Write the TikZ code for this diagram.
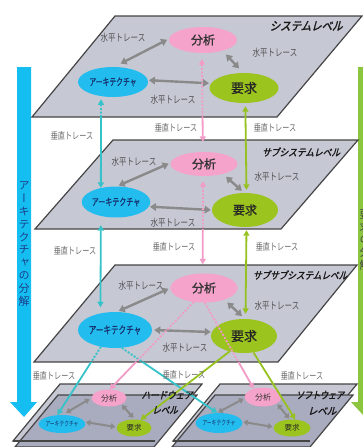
\documentclass[tikz,border=0pt]{standalone}
\usepackage{fontspec}
\usetikzlibrary{shapes.geometric,arrows.meta,calc}
\newfontfamily\jp{Noto Sans CJK JP}
\newfontfamily\jpb[FakeBold=1.2]{Noto Sans CJK JP}
\newfontfamily\jpi[FakeSlant=0.3,FakeBold=2]{Noto Sans CJK JP}
\newfontfamily\jpv[RawFeature={+vert}]{Noto Sans CJK JP}
\definecolor{planec}{HTML}{C6C8D4}
\definecolor{planed}{HTML}{A9ABBE}
\definecolor{edgec}{HTML}{454545}
\definecolor{pinkc}{HTML}{F5A3CB}
\definecolor{cyanc}{HTML}{22BDEE}
\definecolor{greenc}{HTML}{9CC41E}
\definecolor{pinkl}{HTML}{F29BC7}
\definecolor{cyanl}{HTML}{35C3C9}
\definecolor{greenl}{HTML}{96C21F}
\definecolor{arrg}{HTML}{8A8A8A}
\definecolor{labg}{HTML}{555555}
\definecolor{vlabg}{HTML}{6A6A6A}
\definecolor{barcyan}{HTML}{14BEF0}
\definecolor{bargreen}{HTML}{8CC63F}
\definecolor{navyt}{HTML}{1B3F8B}
\newcommand{\sx}[2]{\scalebox{#1}[1]{#2}}
\begin{document}
\begin{tikzpicture}[x=1pt,y=-1pt,
  plane/.style={fill=planec,draw=edgec,line width=1.2},
  planedark/.style={fill=planed,draw=edgec,line width=1.2},
  ell/.style={ellipse,inner sep=0,draw=none},
  ana/.style={ell,fill=pinkc,text=black!80},
  arch/.style={ell,fill=cyanc,text=navyt!80!black},
  req/.style={ell,fill=greenc,text=black!85},
  harrow/.style={draw=arrg,line width=2.4,{Triangle[length=6,width=7.5]}-{Triangle[length=6,width=7.5]}},
  harrows/.style={draw=arrg,line width=2,{Triangle[length=4.5,width=6]}-{Triangle[length=4.5,width=6]}},
  vt/.style={line width=1.8},
  both/.style={{Triangle[length=5.5,width=6]}-{Triangle[length=5.5,width=6]}},
  down/.style={-{Triangle[length=5.5,width=6]}},
  dots/.style={dash pattern=on 2pt off 1.6pt},
  hlab/.style={font=\jp\fontsize{10}{10}\selectfont,text=labg,inner sep=0},
  vlab/.style={font=\jp\fontsize{9.5}{9.5}\selectfont,text=vlabg,inner sep=0},
  lvl/.style={text=black!90,inner sep=0}
]
\useasboundingbox (0,0) rectangle (363,447);

% decomposition bars
\fill[barcyan] (17,67) -- (31,67) -- (31,402) -- (37,402) -- (24,417) -- (10,402) -- (17,402) -- cycle;
\fill[bargreen] (358,67) -- (372,67) -- (372,402) -- (379,402) -- (365,417) -- (351,402) -- (358,402) -- cycle;
\node[font=\jpv\fontsize{11}{12.8}\selectfont,align=center,text=navyt,inner sep=0] (bartxt) at (24,244) {ア\\ー\\キ\\テ\\ク\\チ\\ャ\\の\\分\\解};
\node[font=\jpv\fontsize{11}{12.8}\selectfont,align=center,text=black!75,inner sep=0] (bartxt2) at (365,240) {要\\求\\の\\分\\解};

% planes
\draw[plane] (115,16) -- (362,16) -- (277,117) -- (32,117) -- cycle;
\draw[plane] (113,140) -- (358,140) -- (281,229) -- (35,229) -- cycle;
\draw[plane] (115,265) -- (357,265) -- (278,362) -- (34,362) -- cycle;
\draw[plane] (60,384) -- (202,384) -- (155,441) -- (13,441) -- cycle;
\draw[planedark] (58,395) -- (197,395) -- (154,447) -- (15,447) -- cycle;
\draw[edgec,line width=1.2] (155,441) -- (13,441);
\draw[plane] (220,384) -- (357,384) -- (310,441) -- (173,441) -- cycle;
\draw[planedark] (215,395) -- (353,395) -- (310,447) -- (172,447) -- cycle;
\draw[edgec,line width=1.2] (310,441) -- (173,441);

% ellipses
\node[ana,minimum width=68,minimum height=26,font=\jpb\fontsize{12}{12}\selectfont] (ana1) at (203,40) {分析};
\node[arch,minimum width=70,minimum height=30,font=\jpb\fontsize{10}{10}\selectfont] (arch1) at (113,82) {\sx{0.68}{アーキテクチャ}};
\node[req,minimum width=69,minimum height=30,font=\jpb\fontsize{13}{13}\selectfont] (req1) at (244,88) {要求};

\node[ana,minimum width=67,minimum height=24,font=\jpb\fontsize{12}{12}\selectfont] (ana2) at (204,164) {分析};
\node[arch,minimum width=68,minimum height=31,font=\jpb\fontsize{10}{10}\selectfont] (arch2) at (116,202) {\sx{0.7}{アーキテクチャ}};
\node[req,minimum width=66,minimum height=34,font=\jpb\fontsize{12}{12}\selectfont] (req2) at (245,210) {要求};

\node[ana,minimum width=67,minimum height=29,font=\jpb\fontsize{12}{12}\selectfont] (ana3) at (204,288) {分析};
\node[arch,minimum width=66,minimum height=36,font=\jpb\fontsize{10.5}{10.5}\selectfont] (arch3) at (115,330) {\sx{0.72}{アーキテクチャ}};
\node[req,minimum width=66,minimum height=34,font=\jpb\fontsize{13}{13}\selectfont] (req3) at (244,336) {要求};

\node[ana,minimum width=35,minimum height=17,font=\jp\fontsize{8}{8}\selectfont] (anaL) at (109,398) {分析};
\node[arch,minimum width=40,minimum height=18,font=\jp\fontsize{7}{7}\selectfont] (archL) at (62,424) {\sx{0.68}{アーキテクチャ}};
\node[req,minimum width=35,minimum height=17,font=\jp\fontsize{7.5}{7.5}\selectfont] (reqL) at (134,428) {要求};

\node[ana,minimum width=37,minimum height=19,font=\jp\fontsize{8}{8}\selectfont] (anaR) at (263,397) {分析};
\node[arch,minimum width=42,minimum height=20,font=\jp\fontsize{7}{7}\selectfont] (archR) at (219,423) {\sx{0.68}{アーキテクチャ}};
\node[req,minimum width=37,minimum height=17,font=\jp\fontsize{7.5}{7.5}\selectfont] (reqR) at (292,428) {要求};

% horizontal traces
\draw[harrow,shorten <=7,shorten >=2] (arch1.85) -- (ana1.178);
\draw[harrow,shorten <=5,shorten >=6] (ana1.331) -- (req1.93);
\draw[harrow,shorten <=1,shorten >=2] (arch1.3) -- (req1.172);

\draw[harrow,shorten <=2,shorten >=2] (arch2.87) -- (ana2.178);
\draw[harrow,shorten <=4,shorten >=3] (ana2.332) -- (req2.93);
\draw[harrow,shorten <=1,shorten >=1] (arch2.352) -- (req2.180);

\draw[harrow,shorten <=2,shorten >=2] (arch3.84) -- (ana3.180);
\draw[harrow,shorten <=4,shorten >=4] (ana3.330) -- (req3.87);
\draw[harrow,shorten <=2,shorten >=1] (arch3.0) -- (req3.173);

\draw[harrows,shorten <=4,shorten >=2] (archL.86) -- (anaL.180);
\draw[harrows,shorten <=1,shorten >=2] (anaL.333) -- (reqL.85);
\draw[harrows,shorten <=1,shorten >=1] (archL.5) -- (reqL.177);

\draw[harrows,shorten <=1,shorten >=1] (archR.100) -- (anaR.184);
\draw[harrows,shorten <=1,shorten >=1] (anaR.335) -- (reqR.104);
\draw[harrows,shorten <=1,shorten >=1] (archR.3) -- (reqR.177);

% vertical traces level 1 -> 2
\begin{scope}
\clip (0,0) rectangle (363,117);
\draw[vt,cyanl,dots,both,shorten <=3] (arch1.230) -- (arch2.137);
\draw[vt,pinkl,dots,both,shorten <=6,shorten >=10] (ana1.265) -- (ana2.95);
\end{scope}
\begin{scope}
\clip (0,117) rectangle (363,447);
\draw[vt,cyanl,both,shorten <=3] (arch1.230) -- (arch2.137);
\draw[vt,pinkl,both,shorten <=6,shorten >=10] (ana1.265) -- (ana2.95);
\end{scope}
\draw[vt,greenl,both,shorten <=3,shorten >=3] (req1.275) -- (req2.85);

% vertical traces level 2 -> 3
\begin{scope}
\clip (0,0) rectangle (363,229);
\draw[vt,cyanl,dots,both,shorten <=9,shorten >=6] (arch2.223) -- (arch3.131);
\draw[vt,pinkl,dots,both,shorten <=5,shorten >=9] (ana2.265) -- (ana3.95);
\end{scope}
\begin{scope}
\clip (0,229) rectangle (363,447);
\draw[vt,cyanl,both,shorten <=9,shorten >=6] (arch2.223) -- (arch3.131);
\draw[vt,pinkl,both,shorten <=5,shorten >=9] (ana2.265) -- (ana3.95);
\end{scope}
\draw[vt,greenl,both,shorten <=3,shorten >=5] (req2.275) -- (req3.85);

% vertical traces level 3 -> hardware / software
\begin{scope}
\clip (0,0) rectangle (363,362);
\draw[vt,cyanl,dots,down] (arch3.230) -- (archL.117);
\draw[vt,cyanl,dots,down] (arch3.291) -- (archR.100);
\draw[vt,pinkl,dots,down] (ana3.234) -- (anaL.85);
\draw[vt,pinkl,dots,down] (ana3.273) -- (anaR.138);
\end{scope}
\begin{scope}
\clip (0,362) rectangle (363,447);
\draw[vt,cyanl,down] (arch3.230) -- (archL.117);
\draw[vt,cyanl,down] (arch3.291) -- (archR.100);
\draw[vt,pinkl,down] (ana3.234) -- (anaL.85);
\draw[vt,pinkl,down] (ana3.273) -- (anaR.138);
\end{scope}
\draw[vt,greenl,down] (req3.227) -- (reqL.51);
\draw[vt,greenl,down] (req3.300) -- (reqR.69);

% labels: horizontal traces
\node[hlab] (h1a) at (123,38) {\sx{0.75}{水平トレース}};
\node[hlab] (h1b) at (275,53) {\sx{0.75}{水平トレース}};
\node[hlab] (h1c) at (173,100) {\sx{0.75}{水平トレース}};
\node[hlab] (h2a) at (134,162) {\sx{0.75}{水平トレース}};
\node[hlab] (h2b) at (277,177) {\sx{0.75}{水平トレース}};
\node[hlab] (h2c) at (173,223) {\sx{0.75}{水平トレース}};
\node[hlab] (h3a) at (141,286) {\sx{0.75}{水平トレース}};
\node[hlab] (h3b) at (277,306) {\sx{0.75}{水平トレース}};
\node[hlab] (h3c) at (185,348) {\sx{0.75}{水平トレース}};

% labels: vertical traces
\node[vlab] (v1a) at (72,136) {\sx{0.75}{垂直トレース}};
\node[vlab] (v1b) at (176,128) {\sx{0.75}{垂直トレース}};
\node[vlab] (v1c) at (275,128) {\sx{0.75}{垂直トレース}};
\node[vlab] (v2a) at (75,251) {\sx{0.75}{垂直トレース}};
\node[vlab] (v2b) at (174,247) {\sx{0.75}{垂直トレース}};
\node[vlab] (v2c) at (277,247) {\sx{0.75}{垂直トレース}};
\node[vlab] (v3a) at (54,376) {\sx{0.75}{垂直トレース}};
\node[vlab] (v3b) at (184,375) {\sx{0.75}{垂直トレース}};
\node[vlab] (v3c) at (302,376) {\sx{0.75}{垂直トレース}};

% level names
\node[lvl,font=\jpi\fontsize{12}{12}\selectfont] (lv1) at (306,26) {\sx{0.87}{システムレベル}};
\node[lvl,font=\jpi\fontsize{10}{10}\selectfont] (lv2) at (301,152) {\sx{0.87}{サブシステムレベル}};
\node[lvl,font=\jpi\fontsize{10}{10}\selectfont] (lv3) at (300,275) {\sx{0.86}{サブサブシステムレベル}};
\node[lvl,font=\jpi\fontsize{10}{10}\selectfont] (lvh1) at (167,395) {\sx{0.85}{ハードウェア}};
\node[lvl,font=\jpi\fontsize{10}{10}\selectfont] (lvh2) at (165,410) {\sx{0.85}{レベル}};
\node[lvl,font=\jpi\fontsize{10}{10}\selectfont] (lvs1) at (320,395) {\sx{0.8}{ソフトウェア}};
\node[lvl,font=\jpi\fontsize{10}{10}\selectfont] (lvs2) at (322,411) {\sx{0.95}{レベル}};
\end{tikzpicture}
\end{document}
